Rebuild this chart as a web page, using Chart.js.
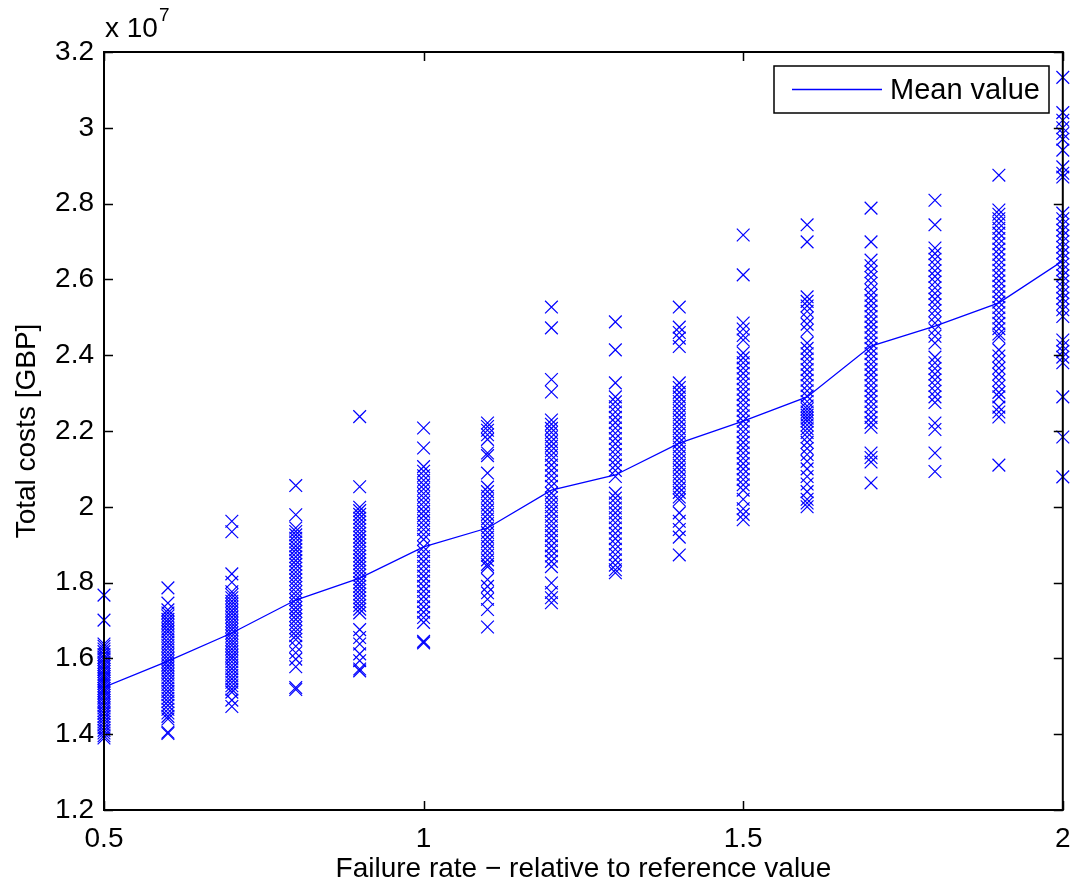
<!DOCTYPE html>
<html>
<head>
<meta charset="utf-8">
<script src="https://cdn.jsdelivr.net/npm/chart.js@4.4.1/dist/chart.umd.min.js"></script>
<style>
    html, body { margin: 0; padding: 0; background: #fff; }
    #wrap { width: 1073px; height: 888px; }
</style>
</head>
<body>
<div id="wrap"><canvas id="costChart" width="1073" height="888"></canvas></div>
<script>
// Failure rate multipliers (x axis)
const failureRates = [0.5, 0.6, 0.7, 0.8, 0.9, 1.0, 1.1, 1.2, 1.3, 1.4, 1.5, 1.6, 1.7, 1.8, 1.9, 2.0];

// Mean total costs per failure rate, in units of 1e7 GBP
const meanCosts = [1.524, 1.593, 1.667, 1.754, 1.812, 1.894, 1.944, 2.044, 2.084, 2.168, 2.226, 2.29, 2.424, 2.477, 2.538, 2.649];

// Simulated total costs per failure rate, in units of 1e7 GBP
const runs050 = [1.767, 1.701, 1.638, 1.632, 1.625, 1.618, 1.61, 1.603, 1.597, 1.59, 1.584, 1.578, 1.571, 1.565, 1.558, 1.552, 1.546, 1.54, 1.534, 1.528, 1.521, 1.515, 1.509, 1.502, 1.496, 1.489, 1.483, 1.476, 1.469, 1.462, 1.455, 1.447, 1.44, 1.432, 1.425, 1.417, 1.41, 1.403, 1.396, 1.39];
const runs060 = [1.786, 1.746, 1.728, 1.72, 1.712, 1.703, 1.695, 1.687, 1.678, 1.67, 1.661, 1.652, 1.643, 1.634, 1.626, 1.617, 1.609, 1.6, 1.592, 1.583, 1.575, 1.566, 1.558, 1.549, 1.54, 1.531, 1.522, 1.513, 1.504, 1.495, 1.486, 1.476, 1.466, 1.456, 1.447, 1.44, 1.405, 1.402];
const runs070 = [1.962, 1.934, 1.823, 1.801, 1.776, 1.768, 1.76, 1.751, 1.743, 1.735, 1.726, 1.718, 1.709, 1.7, 1.692, 1.684, 1.676, 1.667, 1.659, 1.65, 1.642, 1.634, 1.625, 1.617, 1.608, 1.6, 1.591, 1.582, 1.573, 1.564, 1.555, 1.546, 1.537, 1.528, 1.519, 1.511, 1.49, 1.473];
const runs080 = [2.056, 1.979, 1.944, 1.935, 1.926, 1.917, 1.907, 1.897, 1.887, 1.878, 1.868, 1.858, 1.848, 1.838, 1.828, 1.818, 1.808, 1.797, 1.787, 1.776, 1.766, 1.755, 1.745, 1.734, 1.724, 1.713, 1.703, 1.692, 1.681, 1.671, 1.66, 1.65, 1.632, 1.615, 1.598, 1.578, 1.523, 1.518];
const runs090 = [2.238, 2.053, 1.999, 1.99, 1.98, 1.97, 1.96, 1.95, 1.94, 1.93, 1.92, 1.91, 1.9, 1.89, 1.88, 1.87, 1.86, 1.85, 1.84, 1.83, 1.82, 1.81, 1.8, 1.79, 1.78, 1.77, 1.76, 1.75, 1.74, 1.73, 1.72, 1.676, 1.655, 1.638, 1.612, 1.594, 1.572, 1.567];
const runs100 = [2.208, 2.155, 2.106, 2.094, 2.082, 2.07, 2.058, 2.047, 2.035, 2.024, 2.012, 2.0, 1.988, 1.976, 1.964, 1.952, 1.94, 1.927, 1.914, 1.894, 1.882, 1.869, 1.856, 1.843, 1.83, 1.817, 1.804, 1.79, 1.777, 1.763, 1.75, 1.736, 1.722, 1.708, 1.695, 1.645, 1.641];
const runs110 = [2.221, 2.212, 2.202, 2.19, 2.178, 2.142, 2.135, 2.089, 2.052, 2.04, 2.028, 2.016, 2.004, 1.992, 1.98, 1.968, 1.956, 1.944, 1.932, 1.92, 1.908, 1.896, 1.884, 1.872, 1.86, 1.848, 1.842, 1.808, 1.79, 1.773, 1.756, 1.729, 1.683];
const runs120 = [2.527, 2.472, 2.336, 2.303, 2.229, 2.218, 2.207, 2.196, 2.184, 2.172, 2.16, 2.148, 2.136, 2.124, 2.11, 2.096, 2.082, 2.068, 2.054, 2.036, 2.024, 2.012, 2.0, 1.988, 1.975, 1.962, 1.95, 1.937, 1.924, 1.911, 1.897, 1.884, 1.87, 1.856, 1.842, 1.799, 1.774, 1.76, 1.747];
const runs130 = [2.488, 2.414, 2.327, 2.29, 2.277, 2.264, 2.25, 2.236, 2.222, 2.208, 2.194, 2.18, 2.166, 2.152, 2.138, 2.124, 2.11, 2.096, 2.08, 2.036, 2.023, 2.01, 1.997, 1.984, 1.971, 1.958, 1.944, 1.93, 1.916, 1.902, 1.888, 1.874, 1.86, 1.846, 1.834, 1.826];
const runs140 = [2.527, 2.474, 2.46, 2.445, 2.423, 2.327, 2.315, 2.302, 2.29, 2.278, 2.266, 2.254, 2.242, 2.23, 2.218, 2.206, 2.194, 2.182, 2.17, 2.158, 2.146, 2.134, 2.122, 2.11, 2.098, 2.086, 2.074, 2.062, 2.05, 2.038, 2.026, 2.018, 1.984, 1.962, 1.94, 1.92, 1.873];
const runs150 = [2.717, 2.612, 2.485, 2.469, 2.452, 2.44, 2.406, 2.393, 2.38, 2.366, 2.352, 2.338, 2.324, 2.31, 2.296, 2.282, 2.268, 2.254, 2.24, 2.226, 2.212, 2.198, 2.184, 2.17, 2.156, 2.142, 2.128, 2.114, 2.1, 2.086, 2.072, 2.058, 2.044, 2.02, 1.995, 1.98, 1.966];
const runs160 = [2.744, 2.699, 2.554, 2.542, 2.53, 2.516, 2.498, 2.482, 2.466, 2.432, 2.418, 2.404, 2.39, 2.376, 2.362, 2.348, 2.334, 2.32, 2.306, 2.292, 2.278, 2.266, 2.258, 2.25, 2.242, 2.234, 2.226, 2.216, 2.206, 2.196, 2.184, 2.17, 2.154, 2.138, 2.12, 2.1, 2.08, 2.06, 2.04, 2.02, 2.01, 2.0];
const runs170 = [2.788, 2.699, 2.651, 2.636, 2.62, 2.605, 2.59, 2.572, 2.558, 2.544, 2.53, 2.516, 2.502, 2.488, 2.474, 2.46, 2.446, 2.432, 2.418, 2.404, 2.39, 2.376, 2.362, 2.348, 2.334, 2.32, 2.306, 2.292, 2.278, 2.264, 2.25, 2.236, 2.222, 2.21, 2.142, 2.13, 2.118, 2.063];
const runs180 = [2.809, 2.744, 2.683, 2.668, 2.653, 2.638, 2.623, 2.608, 2.593, 2.578, 2.563, 2.548, 2.533, 2.518, 2.502, 2.485, 2.467, 2.45, 2.432, 2.395, 2.38, 2.365, 2.35, 2.335, 2.32, 2.305, 2.29, 2.275, 2.221, 2.204, 2.142, 2.093];
const runs190 = [2.875, 2.783, 2.772, 2.76, 2.748, 2.735, 2.722, 2.708, 2.694, 2.68, 2.666, 2.652, 2.638, 2.624, 2.61, 2.596, 2.582, 2.568, 2.554, 2.54, 2.526, 2.512, 2.498, 2.484, 2.47, 2.456, 2.448, 2.414, 2.398, 2.382, 2.366, 2.35, 2.334, 2.318, 2.302, 2.29, 2.263, 2.25, 2.237, 2.11];
const runs200 = [3.133, 3.04, 3.02, 3.0, 2.985, 2.97, 2.941, 2.897, 2.88, 2.87, 2.775, 2.76, 2.745, 2.73, 2.715, 2.7, 2.685, 2.67, 2.655, 2.64, 2.625, 2.61, 2.595, 2.58, 2.565, 2.55, 2.535, 2.52, 2.502, 2.44, 2.425, 2.41, 2.395, 2.38, 2.29, 2.184, 2.079];

const allRuns = [runs050, runs060, runs070, runs080, runs090, runs100, runs110, runs120,
    runs130, runs140, runs150, runs160, runs170, runs180, runs190, runs200];

// Tick values
const xTicks = [0.5, 1, 1.5, 2];
const yTicks = [1.2, 1.4, 1.6, 1.8, 2, 2.2, 2.4, 2.6, 2.8, 3, 3.2];

const FONT = '"Liberation Sans", Arial, Helvetica, sans-serif';
const BLUE = '#0000ff';

// Frame, inward ticks, exponent label and legend box (MATLAB look)
const matlabAxes = {
    id: 'matlabAxes',
    afterDatasetsDraw(chart) {
        const { ctx, chartArea: a, scales: { x, y } } = chart;
        const tl = 9;
        ctx.save();
        ctx.strokeStyle = '#000';
        ctx.lineWidth = 1.5;
        ctx.beginPath();
        x.ticks.forEach(t => {
            const px = Math.round(x.getPixelForValue(t.value)) + 0.5;
            ctx.moveTo(px, a.bottom); ctx.lineTo(px, a.bottom - tl);
            ctx.moveTo(px, a.top); ctx.lineTo(px, a.top + tl);
        });
        y.ticks.forEach(t => {
            const py = Math.round(y.getPixelForValue(t.value)) + 0.5;
            ctx.moveTo(a.left, py); ctx.lineTo(a.left + tl, py);
            ctx.moveTo(a.right, py); ctx.lineTo(a.right - tl, py);
        });
        ctx.stroke();
        ctx.lineWidth = 2;
        ctx.strokeRect(a.left, a.top, a.right - a.left, a.bottom - a.top);

        // x 10^7
        ctx.fillStyle = '#000';
        ctx.textBaseline = 'alphabetic';
        ctx.textAlign = 'left';
        ctx.font = '28px ' + FONT;
        ctx.fillText('x 10', a.left + 1, a.top - 15);
        const w = ctx.measureText('x 10').width;
        ctx.font = '19px ' + FONT;
        ctx.fillText('7', a.left + 2 + w, a.top - 31);

        // legend
        const mean = chart.data.datasets[1];
        const bx = 774, by = 66, bw = 275, bh = 47;
        ctx.fillStyle = '#fff';
        ctx.fillRect(bx, by, bw, bh);
        ctx.lineWidth = 1.5;
        ctx.strokeRect(bx, by, bw, bh);
        ctx.strokeStyle = mean.borderColor;
        ctx.lineWidth = mean.borderWidth;
        ctx.beginPath();
        ctx.moveTo(792, by + bh / 2);
        ctx.lineTo(882, by + bh / 2);
        ctx.stroke();
        ctx.fillStyle = '#000';
        ctx.font = '29px ' + FONT;
        ctx.textBaseline = 'middle';
        ctx.fillText(mean.label, 890, by + bh / 2 + 1);
        ctx.restore();
    }
};

document.addEventListener('DOMContentLoaded', () => {
    const canvas = document.getElementById('costChart');

    const scatterPoints = [];
    allRuns.forEach((runs, i) => {
        runs.forEach(v => scatterPoints.push({ x: failureRates[i], y: v }));
    });
    const meanPoints = failureRates.map((r, i) => ({ x: r, y: meanCosts[i] }));

    new Chart(canvas, {
        type: 'scatter',
        data: {
            datasets: [{
                label: 'Simulations',
                data: scatterPoints,
                pointStyle: 'crossRot',
                pointRadius: 9,
                pointBorderWidth: 1.2,
                borderColor: BLUE,
                backgroundColor: BLUE,
                showLine: false,
                clip: false,
                order: 2
            }, {
                label: 'Mean value',
                data: meanPoints,
                showLine: true,
                borderColor: BLUE,
                borderWidth: 1.3,
                pointRadius: 0,
                tension: 0,
                fill: false,
                order: 1
            }]
        },
        options: {
            responsive: false,
            animation: false,
            devicePixelRatio: 1,
            layout: { padding: { top: 52, right: 9, left: 0, bottom: 0 } },
            plugins: {
                legend: { display: false },
                tooltip: { enabled: false }
            },
            scales: {
                x: {
                    type: 'linear',
                    min: 0.5,
                    max: 2,
                    afterBuildTicks: scale => { scale.ticks = xTicks.map(v => ({ value: v })); },
                    afterFit: scale => {
                        scale.height = 78;
                        scale.paddingLeft = 0;
                        scale.paddingRight = 0;
                    },
                    grid: { display: false, drawTicks: false },
                    border: { display: false },
                    ticks: {
                        color: '#000',
                        padding: 12,
                        maxRotation: 0,
                        autoSkip: false,
                        font: { family: FONT, size: 28 },
                        callback: v => String(+(+v).toFixed(1))
                    },
                    title: {
                        display: true,
                        text: 'Failure rate \u2212 relative to reference value',
                        color: '#000',
                        font: { family: FONT, size: 28 },
                        padding: { top: 0, bottom: 2 }
                    }
                },
                y: {
                    type: 'linear',
                    min: 1.2,
                    max: 3.2,
                    afterBuildTicks: scale => { scale.ticks = yTicks.map(v => ({ value: v })); },
                    afterFit: scale => {
                        scale.width = 104;
                        scale.paddingTop = 0;
                        scale.paddingBottom = 0;
                    },
                    grid: { display: false, drawTicks: false },
                    border: { display: false },
                    ticks: {
                        color: '#000',
                        padding: 10,
                        autoSkip: false,
                        font: { family: FONT, size: 28 },
                        callback: v => String(+(+v).toFixed(1))
                    },
                    title: {
                        display: true,
                        text: 'Total costs [GBP]',
                        color: '#000',
                        font: { family: FONT, size: 28 },
                        padding: { top: 10, bottom: 0 }
                    }
                }
            }
        },
        plugins: [matlabAxes]
    });
});
</script>
</body>
</html>
